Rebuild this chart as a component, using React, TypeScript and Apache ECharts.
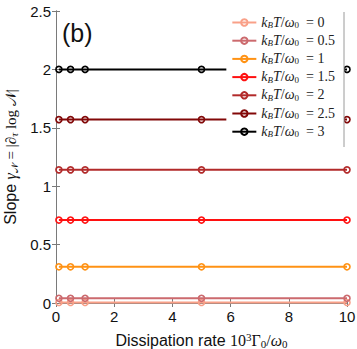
import React, { useEffect, useRef } from "react";
import * as echarts from "echarts";

const xValues = [0.1, 0.5, 1, 5, 10];
const temperatures = ["0", "0.5", "1", "1.5", "2", "2.5", "3"];
const slopes = [0.004, 0.04, 0.31, 0.71, 1.14, 1.57, 2.0];
const colors = ["#F9A088", "#CC6A6E", "#FF9214", "#FF1010", "#B22A2A", "#820808", "#000000"];
const xTicks = [0, 2, 4, 6, 8, 10];
const yTicks = [0, 0.5, 1, 1.5, 2, 2.5];

export default function App() {
  const ref = useRef<HTMLDivElement>(null);
  useEffect(() => {
    if (!ref.current) return;
    const chart = echarts.init(ref.current, undefined, { renderer: "svg" });
    const serif = "Liberation Serif";
    const sans = "Liberation Sans";
    const series = temperatures.map((t, i) => ({
      name: t,
      type: "line",
      data: xValues.map((x) => [x, slopes[i]]),
      symbol: "circle",
      symbolSize: 6,
      clip: false,
      lineStyle: { color: colors[i], width: 2 },
      itemStyle: { color: "rgba(255,255,255,0)", borderColor: colors[i], borderWidth: 1.6 },
      z: 2 + i * 0.01,
    }));
    const mathRich = {
      i: { fontFamily: serif, fontStyle: "italic", fontSize: 14, color: "#222" },
      n: { fontFamily: serif, fontSize: 14, color: "#222" },
      s: { fontFamily: serif, fontStyle: "italic", fontSize: 9, color: "#222", verticalAlign: "bottom", padding: [6, 0, 0, 0] },
      s0: { fontFamily: serif, fontSize: 9, color: "#222", verticalAlign: "bottom", padding: [6, 0, 0, 0] },
    };
    chart.setOption({
      animation: false,
      grid: { left: 56, right: 10, top: 11, bottom: 46, show: false, outerBoundsMode: "none", containLabel: false },
      legend: {
        data: temperatures,
        orient: "vertical",
        right: 13,
        top: 12,
        backgroundColor: "#ffffff",
        padding: [3, 9, 8, 5],
        itemWidth: 24,
        itemHeight: 8,
        itemGap: 3.7,
        formatter: (name: string) => `{i|k}{s|B}{i|T}{n|/}{i|ω}{s0|0}{n|  = ${name}}`,
        textStyle: { rich: mathRich, height: 16 },
      },
      xAxis: [
        {
          type: "value",
          min: 0,
          max: 10,
          interval: 2,
          axisLine: { show: true, onZero: false, lineStyle: { color: "#7a7a7a" } },
          axisTick: { show: true, inside: true, length: 4, lineStyle: { color: "#7a7a7a" } },
          splitLine: { show: false },
          axisLabel: { color: "#111", fontSize: 15, fontFamily: sans, margin: 6, formatter: (v: number) => (xTicks.includes(v) ? String(v) : "") },
          name: "{t|Dissipation rate }{m|10}{sup|3}{m|Γ}{sb|0}{m|/}{mi|ω}{sb|0}",
          nameLocation: "middle",
          nameGap: 28,
          nameTextStyle: {
            rich: {
              t: { fontFamily: sans, fontSize: 16, color: "#111" },
              m: { fontFamily: serif, fontSize: 16, color: "#111" },
              mi: { fontFamily: serif, fontStyle: "italic", fontSize: 16, color: "#111" },
              sup: { fontFamily: serif, fontSize: 11, color: "#111", verticalAlign: "top", padding: [0, 0, 7, 0] },
              sb: { fontFamily: serif, fontSize: 11, color: "#111", verticalAlign: "bottom", padding: [6, 0, 0, 0] },
            },
          },
        },
        {
          type: "value",
          position: "top",
          min: 0,
          max: 10,
          interval: 2,
          axisLine: { show: true, lineStyle: { color: "#7a7a7a" } },
          axisTick: { show: true, inside: true, length: 4, lineStyle: { color: "#7a7a7a" } },
          axisLabel: { show: false },
          splitLine: { show: false },
        },
      ],
      yAxis: [
        {
          type: "value",
          min: 0,
          max: 2.5,
          interval: 0.5,
          axisLine: { show: true, onZero: false, lineStyle: { color: "#7a7a7a" } },
          axisTick: { show: true, inside: true, length: 4, lineStyle: { color: "#7a7a7a" } },
          splitLine: { show: false },
          axisLabel: { color: "#111", fontSize: 15, fontFamily: sans, margin: 5, formatter: (v: number) => (yTicks.includes(v) ? String(v) : "") },
          name: "{t|Slope }{mi|γ}{sb|𝒩}{m| = |∂}{sbi|τ}{m| log 𝒩|}",
          nameLocation: "middle",
          nameGap: 34,
          nameRotate: 90,
          nameTextStyle: {
            rich: {
              t: { fontFamily: sans, fontSize: 16, color: "#111" },
              m: { fontFamily: serif, fontSize: 15, color: "#111" },
              mi: { fontFamily: serif, fontStyle: "italic", fontSize: 16, color: "#111" },
              sb: { fontFamily: serif, fontSize: 10, color: "#111", verticalAlign: "bottom", padding: [6, 0, 0, 0] },
              sbi: { fontFamily: serif, fontStyle: "italic", fontSize: 11, color: "#111", verticalAlign: "bottom", padding: [6, 0, 0, 0] },
            },
          },
        },
        {
          type: "value",
          position: "right",
          min: 0,
          max: 2.5,
          interval: 0.5,
          axisLine: { show: true, lineStyle: { color: "#7a7a7a" } },
          axisTick: { show: true, inside: true, length: 4, lineStyle: { color: "#7a7a7a" } },
          axisLabel: { show: false },
          splitLine: { show: false },
        },
      ],
      graphic: [
        {
          type: "text",
          left: 62,
          top: 20,
          style: { text: "(b)", fontSize: 25, fontFamily: sans, fill: "#111" },
          z: 10,
        },
        {
          type: "line",
          shape: { x1: 344, y1: 12, x2: 344, y2: 147 },
          style: { stroke: "#9a9a9a", lineWidth: 1 },
          z: 10,
        },
      ],
      series,
    });
    return () => chart.dispose();
  }, []);
  return <div ref={ref} style={{ width: 357, height: 349, position: "absolute", left: 0, top: 0 }} />;
}
